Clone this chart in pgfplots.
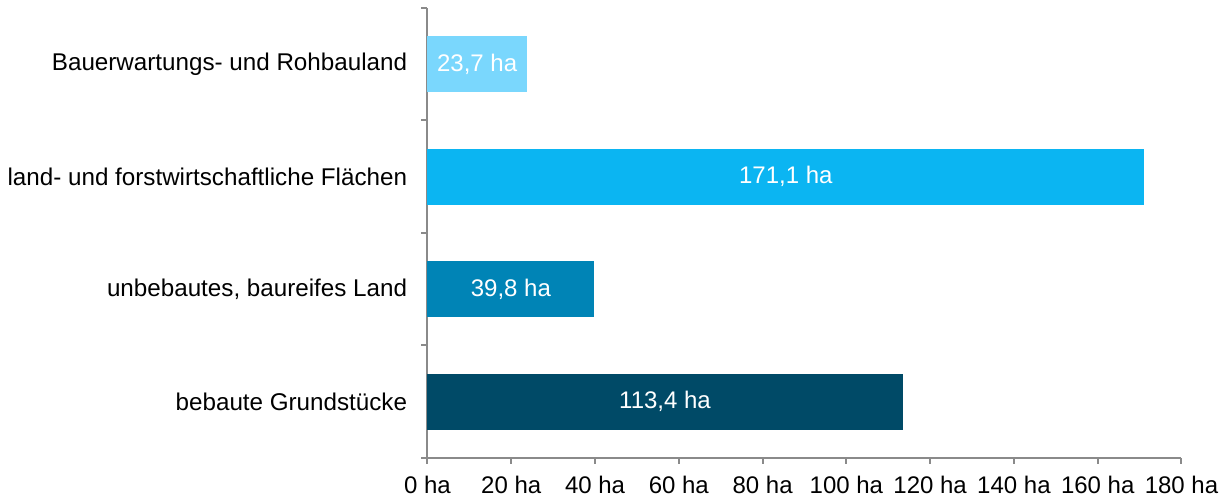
\documentclass[border=0pt]{standalone}
\usepackage{pgfplots}
\pgfplotsset{compat=1.18}
\usepackage{fontspec}
\setmainfont{Liberation Sans}
\definecolor{c1}{HTML}{7AD7FD}
\definecolor{c2}{HTML}{0BB5F2}
\definecolor{c3}{HTML}{0084B6}
\definecolor{c4}{HTML}{004A67}
\definecolor{axgray}{HTML}{8A8A8A}
\begin{document}
\fontsize{12pt}{14pt}\selectfont
\begin{tikzpicture}
\begin{axis}[
  scale only axis,
  width=377pt, height=225pt,
  xmin=0, xmax=180, ymin=-0.5, ymax=3.5,
  axis lines=left,
  axis line style={-, axgray, line width=1pt},
  tick style={axgray, line width=1pt},
  tick align=outside,
  major tick length=3pt,
  xtick={0,20,...,180},
  xticklabels={0 ha,20 ha,40 ha,60 ha,80 ha,100 ha,120 ha,140 ha,160 ha,180 ha},
  ytick={-0.5,0.5,1.5,2.5,3.5},
  yticklabels={bebaute Grundstücke,{unbebautes, baureifes Land},land- und forstwirtschaftliche Flächen,Bauerwartungs- und Rohbauland,{}},
  yticklabel style={font=\fontsize{12.1pt}{14pt}\selectfont, yshift=28.125pt, xshift=-3pt},
  xticklabel style={font=\fontsize{12pt}{14pt}\selectfont, yshift=-2pt},
  xbar, bar width=28pt, bar shift=0pt,
  clip=false,
]
\addplot[draw=none, fill=c4] coordinates {(113.4,0)};
\addplot[draw=none, fill=c3] coordinates {(39.8,1)};
\addplot[draw=none, fill=c2] coordinates {(171.1,2)};
\addplot[draw=none, fill=c1] coordinates {(23.7,3)};
\addplot[xbar=false, only marks, mark=*, mark size=0pt,
  mark options={draw opacity=0, fill opacity=0},
  point meta=explicit symbolic,
  nodes near coords,
  every node near coord/.style={anchor=center, text=white, text opacity=1, font=\fontsize{12pt}{14pt}\selectfont}]
  coordinates {(56.7,0) [113,4 ha] (19.9,1) [39,8 ha] (85.55,2) [171,1 ha] (11.85,3) [23,7 ha]};
\coordinate (O) at (axis cs:0,-0.5);
\end{axis}
\pgfresetboundingbox
\path (O) ++(-213.75pt,-19.5pt) rectangle ++(613pt,248.5pt);
\end{tikzpicture}
\end{document}
